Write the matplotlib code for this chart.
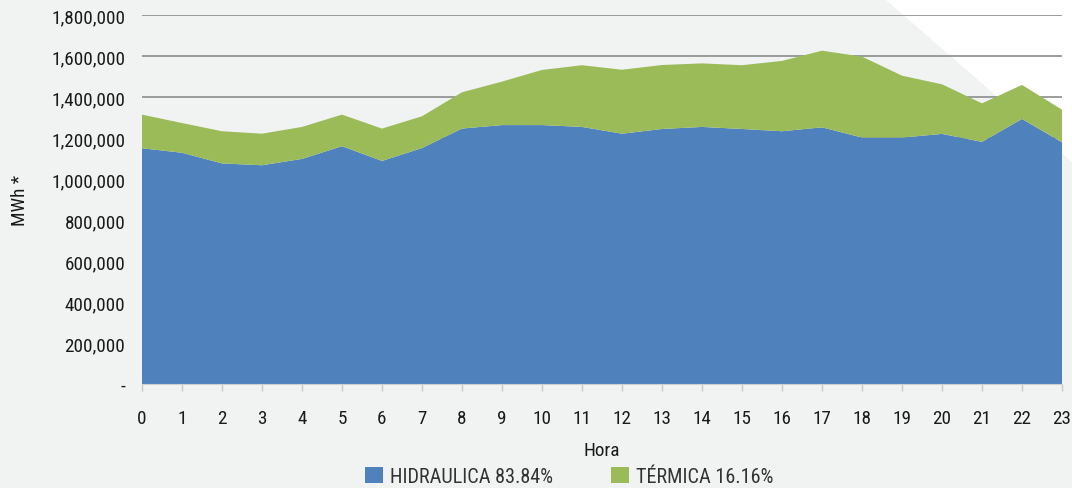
import matplotlib
matplotlib.use("Agg")
import matplotlib.pyplot as plt
from matplotlib.patches import Polygon, Patch
from matplotlib.ticker import FuncFormatter, MultipleLocator

# ---- data ----
hours = list(range(24))
hidraulica = [1150000, 1128000, 1076000, 1067000, 1098000, 1160000, 1088000, 1151000,
              1246000, 1263000, 1263000, 1254000, 1221000, 1244000, 1254000, 1244000,
              1233000, 1252000, 1202000, 1202000, 1220000, 1181000, 1293000, 1179000]
total = [1314000, 1273000, 1233000, 1221000, 1254000, 1314000, 1246000, 1306000,
         1423000, 1475000, 1532000, 1555000, 1533000, 1556000, 1564000, 1555000,
         1576000, 1626000, 1597000, 1504000, 1462000, 1369000, 1459000, 1338000]
termica = [t - h for t, h in zip(total, hidraulica)]
series_labels = ["HIDRAULICA 83.84%", "TÉRMICA 16.16%"]
colors = ["#4F81BD", "#9BBB59"]

plt.rcParams['font.family'] = ['Roboto Condensed', 'Roboto', 'DejaVu Sans']
FS = 13.8

W, H = 1072, 489
fig = plt.figure(figsize=(W / 100, H / 100), dpi=100)
fig.patch.set_facecolor("#F1F2F2")

# background axes holding the white triangle decoration (top-right)
bg = fig.add_axes([0, 0, 1, 1], zorder=-5)
bg.set_xlim(0, W)
bg.set_ylim(H, 0)
bg.axis("off")
bg.add_patch(Polygon([(885, 0), (W, 0), (W, 163)], closed=True,
                     facecolor="white", edgecolor="none"))

ax = fig.add_axes([142 / W, 1 - 385 / H, (1062 - 142) / W, (385 - 16) / H], zorder=1)
ax.set_facecolor("none")
ax.stackplot(hours, hidraulica, termica, colors=colors, linewidth=0, zorder=2)

ax.set_xlim(0, 23)
ax.set_ylim(0, 1800000)
ax.yaxis.set_major_locator(MultipleLocator(200000))
ax.xaxis.set_major_locator(MultipleLocator(1))
ax.yaxis.set_major_formatter(FuncFormatter(lambda v, p: "-" if v == 0 else f"{int(v):,}"))
ax.grid(axis='y', color="#8C8C8C", linewidth=1.2, zorder=1)
ax.set_axisbelow(True)

for s in ["top", "right", "left"]:
    ax.spines[s].set_visible(False)
ax.spines["bottom"].set_color("#D0D0D0")
ax.spines["bottom"].set_zorder(3)

ax.tick_params(axis='y', length=0, pad=12, labelsize=FS, labelcolor="#1A1A1A")
ax.tick_params(axis='x', length=5, width=1, color="#C8C8C8", pad=13,
               labelsize=FS, labelcolor="#1A1A1A")

ax.set_xlabel("Hora", fontsize=FS, color="#1A1A1A", labelpad=10)
ax.set_ylabel("MWh *", fontsize=FS, color="#1A1A1A", labelpad=16)

handles = [Patch(facecolor=c, edgecolor="none") for c in colors]
leg = fig.legend(handles, series_labels, loc="center", bbox_to_anchor=(0.531, 0.024),
                 ncol=2, frameon=False, fontsize=14.6, handlelength=0.85,
                 handleheight=0.85, handletextpad=0.35, columnspacing=2.9,
                 borderpad=0.1)
for t in leg.get_texts():
    t.set_color("#333333")

fig.savefig("out.png", dpi=100, facecolor=fig.get_facecolor())
